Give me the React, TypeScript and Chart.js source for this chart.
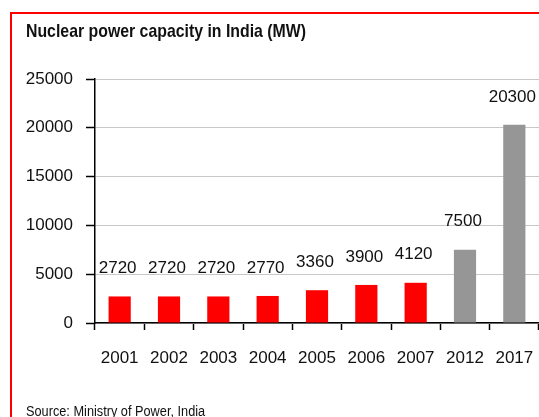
import React, { useEffect, useRef } from "react";
import { Chart, registerables } from "chart.js";

Chart.register(...registerables);

const categories = ["2001", "2002", "2003", "2004", "2005", "2006", "2007", "2012", "2017"];
const capacityMW = [2720, 2720, 2720, 2770, 3360, 3900, 4120, 7500, 20300];
const barColors = ["#ff0000", "#ff0000", "#ff0000", "#ff0000", "#ff0000", "#ff0000", "#ff0000", "#969696", "#969696"];
const yTicks = [0, 5000, 10000, 15000, 20000, 25000];
const titleText = "Nuclear power capacity in India (MW)";
const sourceText = "Source: Ministry of Power, India";

const FONT = '"Liberation Sans", Arial, sans-serif';

const decorPlugin = {
  id: "decor",
  beforeDraw(chart: any) {
    const ctx = chart.ctx;
    ctx.save();
    ctx.fillStyle = "#ff0000";
    ctx.fillRect(10, 12, chart.width - 10, 2);
    ctx.fillRect(10, 12, 2, chart.height - 12);
    ctx.restore();
  },
  afterDraw(chart: any) {
    const ctx = chart.ctx;
    ctx.save();
    ctx.fillStyle = "#111111";
    ctx.textBaseline = "alphabetic";
    ctx.textAlign = "left";
    ctx.font = `bold 19px ${FONT}`;
    ctx.translate(26, 37);
    ctx.scale(0.834, 1);
    ctx.fillText(titleText, 0, 0);
    ctx.restore();

    ctx.save();
    ctx.fillStyle = "#111111";
    ctx.textBaseline = "alphabetic";
    ctx.textAlign = "left";
    ctx.font = `14px ${FONT}`;
    ctx.translate(26, 416);
    ctx.scale(0.91, 1);
    ctx.fillText(sourceText, 0, 0);
    ctx.restore();
  },
};

const labelPlugin = {
  id: "barLabels",
  afterDatasetsDraw(chart: any) {
    const ctx = chart.ctx;
    const meta = chart.getDatasetMeta(0);
    ctx.save();
    ctx.fillStyle = "#111111";
    ctx.font = `17px ${FONT}`;
    ctx.textAlign = "center";
    ctx.textBaseline = "middle";
    meta.data.forEach((bar: any, i: number) => {
      const txt = String(capacityMW[i]);
      const w = ctx.measureText(txt).width;
      let x = bar.x - 2;
      if (x + w / 2 > chart.width - 2) x = chart.width - 2 - w / 2;
      ctx.fillText(txt, x, bar.y - 28);
    });
    ctx.restore();
  },
};

export default function App() {
  const ref = useRef<HTMLCanvasElement | null>(null);

  useEffect(() => {
    if (!ref.current) return;
    const chart = new Chart(ref.current, {
      type: "bar",
      data: {
        labels: categories,
        datasets: [
          {
            data: capacityMW,
            backgroundColor: barColors,
            borderWidth: 0,
            barPercentage: 0.45,
            categoryPercentage: 1,
          },
        ],
      },
      options: {
        responsive: false,
        animation: false,
        layout: { padding: { top: 79, left: 0, right: 0, bottom: 0 } },
        plugins: {
          legend: { display: false },
          tooltip: { enabled: false },
          title: { display: false },
        },
        scales: {
          x: {
            offset: true,
            grid: {
              offset: true,
              drawOnChartArea: false,
              drawTicks: true,
              tickLength: 7,
              tickColor: "#000000",
              tickWidth: 1.5,
            },
            border: { color: "#000000", width: 1.5 },
            ticks: {
              font: { family: FONT, size: 17 },
              color: "#111111",
              padding: 18,
              maxRotation: 0,
              autoSkip: false,
            },
            afterFit: (s: any) => {
              s.height = 94;
              s.paddingLeft = 0;
              s.paddingRight = 0;
            },
          },
          y: {
            min: 0,
            max: 25000,
            afterBuildTicks: (s: any) => {
              s.ticks = yTicks.map((v) => ({ value: v }));
            },
            ticks: {
              font: { family: FONT, size: 17 },
              color: "#111111",
              padding: 13,
              callback: (v: any) => String(v),
            },
            grid: {
              color: "#c8c8c8",
              lineWidth: 1,
              tickColor: "#000000",
              tickLength: 9,
              tickWidth: 1.5,
            },
            border: { color: "#000000", width: 1.5 },
            afterFit: (s: any) => {
              s.width = 95;
            },
          },
        },
      },
      plugins: [decorPlugin, labelPlugin],
    });
    return () => chart.destroy();
  }, []);

  return (
    <div style={{ position: "absolute", left: 0, top: 0, width: 539, height: 417, background: "#fff" }}>
      <canvas ref={ref} width={539} height={417} style={{ display: "block", width: 539, height: 417 }} />
    </div>
  );
}
